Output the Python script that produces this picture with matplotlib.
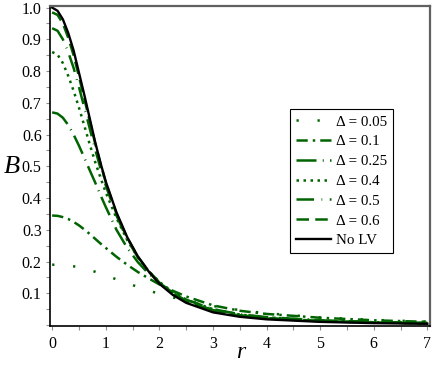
import matplotlib
matplotlib.use("Agg")
import matplotlib.pyplot as plt
from matplotlib.ticker import MultipleLocator

# radial grid
r = [0, 0.1, 0.2, 0.3, 0.4, 0.5, 0.6, 0.7, 0.8, 0.9, 1.0, 1.2, 1.4, 1.6, 1.8, 2.0,
     2.25, 2.5, 3.0, 3.5, 4.0, 5.0, 6.0, 7.0]

B_005 = [0.19, 0.19, 0.189, 0.187, 0.185, 0.182, 0.178, 0.173, 0.168, 0.162, 0.156, 0.144,
         0.132, 0.12, 0.109, 0.098, 0.087, 0.077, 0.06, 0.047, 0.037, 0.024, 0.016, 0.011]
B_01 = [0.345, 0.344, 0.34, 0.334, 0.325, 0.314, 0.301, 0.287, 0.272, 0.257, 0.243, 0.215,
        0.19, 0.167, 0.147, 0.128, 0.108, 0.09, 0.062, 0.045, 0.035, 0.023, 0.015, 0.010]
B_025 = [0.67, 0.666, 0.653, 0.63, 0.60, 0.565, 0.527, 0.488, 0.45, 0.41, 0.372, 0.30,
         0.243, 0.198, 0.162, 0.132, 0.102, 0.08, 0.05, 0.034, 0.025, 0.015, 0.010, 0.007]
B_04 = [0.86, 0.852, 0.825, 0.785, 0.738, 0.685, 0.628, 0.57, 0.515, 0.465, 0.418, 0.337,
        0.268, 0.213, 0.17, 0.136, 0.104, 0.08, 0.05, 0.033, 0.024, 0.014, 0.009, 0.006]
B_05 = [0.935, 0.927, 0.90, 0.86, 0.81, 0.75, 0.685, 0.62, 0.555, 0.495, 0.44, 0.345,
        0.27, 0.213, 0.169, 0.134, 0.101, 0.077, 0.047, 0.031, 0.022, 0.013, 0.008, 0.005]
B_06 = [0.985, 0.977, 0.95, 0.905, 0.85, 0.783, 0.713, 0.643, 0.574, 0.51, 0.45, 0.35,
        0.274, 0.215, 0.17, 0.134, 0.10, 0.075, 0.045, 0.030, 0.021, 0.012, 0.008, 0.005]
B_noLV = [1.0, 0.99, 0.963, 0.92, 0.865, 0.795, 0.725, 0.652, 0.578, 0.512, 0.452, 0.355,
          0.277, 0.216, 0.169, 0.13, 0.095, 0.07, 0.04, 0.026, 0.018, 0.010, 0.006, 0.004]

labels = ["Δ = 0.05", "Δ = 0.1", "Δ = 0.25", "Δ = 0.4", "Δ = 0.5", "Δ = 0.6", "No LV"]

green = "#006400"

plt.rcParams['font.family'] = ['Liberation Serif', 'DejaVu Serif']

fig = plt.figure(figsize=(4.36, 3.66), dpi=100)
ax = fig.add_axes([0.1147, 0.1093, 0.8716, 0.8743])

ax.plot(r, B_005, color=green, lw=1.8, dashes=(0.9, 7.5), label=labels[0])
ax.plot(r, B_01, color=green, lw=1.8, dashes=(4.5, 2.0, 1.0, 2.0), label=labels[1])
ax.plot(r, B_025, color=green, lw=1.8, dashes=(8.0, 2.5, 0.4, 2.5), label=labels[2])
ax.plot(r, B_04, color=green, lw=1.8, dashes=(1.0, 1.8), label=labels[3])
ax.plot(r, B_05, color=green, lw=1.8, dashes=(7.0, 3.0, 0.3, 3.0), label=labels[4])
ax.plot(r, B_06, color=green, lw=1.8, dashes=(5.0, 2.5), label=labels[5])
ax.plot(r, B_noLV, color="black", lw=1.7, label=labels[6])

ax.set_xlim(-0.04, 7.05)
ax.set_ylim(-0.003, 1.005)

ax.set_xticks(range(0, 8))
ax.set_yticks([0.1, 0.2, 0.3, 0.4, 0.5, 0.6, 0.7, 0.8, 0.9, 1.0])
ax.set_yticklabels(["0.1", "0.2", "0.3", "0.4", "0.5", "0.6", "0.7", "0.8", "0.9", "1.0"])
ax.xaxis.set_minor_locator(MultipleLocator(0.5))
ax.yaxis.set_minor_locator(MultipleLocator(0.05))
ax.tick_params(which="both", direction="out", length=3, width=0.8, color="#909090",
               labelsize=11.5, pad=3)
ax.tick_params(axis="x", pad=4)

for side in ["top", "right"]:
    ax.spines[side].set_color("#606060")
    ax.spines[side].set_linewidth(1.6)
for side in ["left", "bottom"]:
    ax.spines[side].set_color("black")
    ax.spines[side].set_linewidth(1.2)

fig.text(0.027, 0.543, "B", fontsize=19, style="italic", ha="center", va="center")
fig.text(0.552, 0.038, "r", fontsize=17, style="italic", ha="center", va="center")

leg = ax.legend(loc="upper left", bbox_to_anchor=(0.632, 0.678), fontsize=10.8,
                frameon=True, fancybox=False, edgecolor="black", framealpha=1,
                handlelength=2.3, handletextpad=0.35, labelspacing=0.42,
                borderpad=0.4, borderaxespad=0)
leg.get_frame().set_linewidth(0.8)

fig.savefig("out.png", dpi=100)
